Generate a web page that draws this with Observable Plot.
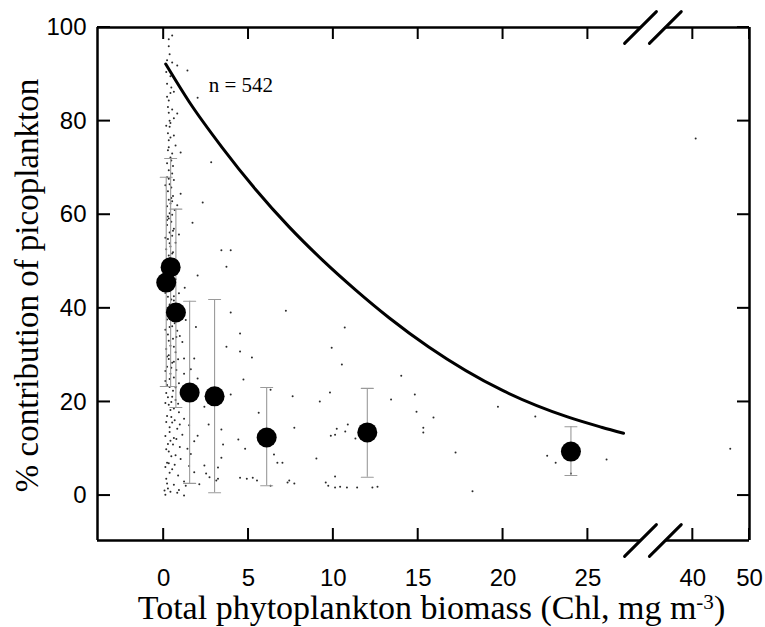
<!DOCTYPE html>
<html><head><meta charset="utf-8">
<script src="https://cdn.jsdelivr.net/npm/d3@7"></script>
<script src="https://cdn.jsdelivr.net/npm/@observablehq/plot@0.6"></script>
<style>html,body{margin:0;padding:0;background:#fff;}</style>
</head><body><div id="chart"></div>
<script>
// ---- data ----
const xTicks = [0, 5, 10, 15, 20, 25, 40, 50];
const yTicks = [0, 20, 40, 60, 80, 100];

// binned means with error bars
const meanX  = [0.15, 0.41, 0.72, 1.53, 3.0, 6.07, 12.0, 24.0];
const meanY  = [45.5, 48.8, 39.1, 22.0, 21.2, 12.4, 13.5, 9.4];
const errHi  = [68.0, 72.0, 61.2, 41.5, 41.9, 23.1, 22.9, 14.7];
const errLo  = [23.3, 23.3, 18.8, 2.6, 0.6, 2.1, 3.9, 4.3];

// fitted curve
const curveX = [0.12, 1.49, 3.46, 5.42, 7.39, 9.36, 11.32, 13.28, 15.6, 20.0, 23.8, 25.8, 27.1];
const curveY = [92.2, 84.2, 74.3, 65.4, 57.4, 50.3, 43.9, 38.0, 31.8, 22.4, 16.8, 14.6, 13.3];

// individual observations (approximate reading of the scatter)
const scatter = [
 [0.3,97.5],[0.5,98.3],[0.3,96],[0.2,93],[0.5,92.5],[0.8,91.9],[1.4,90.8],[0.15,90.5],[0.4,89.6],
 [2.0,85],[0.4,86],[0.6,86.3],[0.3,84.4],[0.5,82.5],[0.35,80.1],[0.6,80.6],[0.8,81.6],[0.2,88],[0.45,87.2],[0.25,83],
 [0.25,77.4],[0.4,76.5],[0.6,76.9],[0.3,75.9],[1.0,73.3],[0.3,74.4],[0.5,73.1],[0.4,72.2],[2.8,71.2],[0.2,71],[0.55,70.4],[0.35,78.8],[0.7,74.8],[0.15,79],
 [0.3,69.5],[0.5,68.8],[0.2,68],[0.6,67.4],[0.35,66.5],[0.45,65.8],[0.25,65],[1.0,64.5],[0.55,64],[0.3,63.2],[0.4,62.4],[2.3,62.6],[0.2,61.8],[0.65,61],[0.35,60.3],[0.5,60],[0.8,62],
 [0.3,59.2],[0.45,58.5],[1.7,58.3],[0.2,57.8],[0.6,57],[0.35,56.2],[0.5,55.5],[0.25,54.8],[0.7,54],[0.4,53.2],[0.15,52.6],[0.55,52],[3.4,52.4],[3.95,52.4],[0.3,51.3],[0.6,50.5],[0.45,50],[0.9,55.8],[0.2,58.9],
 [0.3,49.5],[0.55,48.3],[0.2,47.5],[3.7,48.9],[2.0,47],[1.24,44.4],[0.7,46.2],[0.4,44],[0.9,43.2],[0.25,42.5],[0.6,41.7],[0.35,40.8],[1.0,40.2],[0.15,45.6],[0.8,47.9],
 [3.95,39.1],[7.2,39.5],[1.9,36],[4.5,34.6],[3.7,31.8],[4.5,30.8],[5.2,29.5],[0.3,39.5],[0.5,38.4],[0.2,37.6],[0.65,36.8],[0.35,36],[0.8,35.2],[0.25,34.4],[0.55,33.5],[1.1,32.8],[0.4,32],[0.15,31.3],[0.7,30.6],[0.3,30],[0.95,34.1],[1.3,37.5],
 [1.8,29.3],[1.2,29.3],[1.2,26],[2.0,25],[4.7,24.8],[3.95,21.6],[7.6,21.2],[0.3,29.2],[0.5,28.4],[0.2,27.5],[0.75,26.8],[0.4,26],[0.6,25.2],[0.1,24.5],[0.9,24],[0.35,23.2],[0.55,22.4],[1.0,21.7],[0.25,21],[0.7,20.4],[1.4,22.8],[0.45,20],[1.6,27],
 [2.4,19],[5.6,17.7],[2.65,15.2],[3.4,14.1],[4.4,12],[4.8,10],[3.5,10.9],[0.3,19.4],[0.6,18.6],[0.9,17.8],[0.2,17],[1.2,16.4],[0.5,15.6],[1.5,15],[0.8,14.3],[0.35,13.6],[1.1,13],[0.6,12.3],[1.8,11.6],[0.25,11],[0.95,10.4],[1.4,10],[2.0,12.8],[0.45,16.8],
 [6.5,8.8],[3.4,8.1],[2.4,6.4],[3.2,6],[2.5,4.7],[4.5,3.8],[4.9,3.6],[5.25,3.8],[5.5,3.2],[7.4,3.2],[7.7,2.6],[1.3,2.1],[1.2,0],[3.2,3.6],[3.1,3.2],[0.3,9.4],[0.7,8.6],[1.0,7.8],[0.2,7],[1.5,6.3],[0.5,5.6],[1.8,5],[0.85,4.3],[0.15,3.6],[1.2,3],[0.6,2.3],[0.25,1.5],[0.4,0.8],[0.1,0.2],[0.9,1.2],[2.1,2.4],[2.7,3.9],[1.6,8.9],
 [0.1,66.3],[0.45,63.6],[0.25,59.6],[0.55,56.6],[0.1,55.1],[0.35,53.9],[0.5,51.7],[0.15,49.1],[0.4,47.1],[0.6,44.8],[0.1,43.3],[0.45,41.9],[0.2,40.1],[0.5,36.2],[0.1,35.4],[0.3,33.1],[0.6,31.8],[0.2,29.7],[0.45,27.3],[0.1,26.6],
 [0.35,24.9],[0.2,23.6],[0.5,21.1],[0.1,19.8],[0.4,18.3],[0.15,15.7],[0.35,14.6],[0.1,12.7],[0.4,11.7],[0.15,9.9],[0.45,8.4],[0.1,6.1],[0.35,4.9],[0.2,2.6],[0.05,1.1],[0.3,6.9],[0.55,10.9],[0.65,16.1],[0.15,21.9],[0.6,28.6],
 [0.25,45.1],[0.35,50.7],[0.5,62.9],[0.3,67.7],[0.45,71.6],[0.25,73.8],[0.4,79.6],[0.3,81.8],[0.2,85.2],[0.35,94.3],[0.6,42.6],[0.7,38.9],[0.75,33.9],[0.85,29.1],[0.7,23.1],[0.85,19.6],[0.95,15.2],[0.75,12.1],[0.65,6.6],[0.8,0.6],
 [10.67,35.9],[9.9,31.6],[10.5,28],[14.0,25.6],[6.3,22.6],[9.2,20.1],[9.8,22],[13.4,20.5],[14.8,21.6],[14.9,17.9],[15.9,16.7],[19.7,19],[21.9,16.9],[7.7,14.5],[10.2,14.3],[10.7,13.7],[10.85,15.2],[9.85,12.8],[10.1,13],[11.3,12.2],[15.3,14.5],[15.3,13.5],[17.2,9.2],[22.6,8.5],[23.1,7.0],[24.0,4.7],[6.7,7.0],[7.0,7.0],[9.0,7.9],[7.3,2.8],[6.3,2.1],[9.55,2.8],[9.7,2.1],[10.1,1.7],[10.4,1.9],[10.8,1.7],[11.4,1.7],[12.3,1.7],[12.6,1.9],[10.1,4.1],[18.2,0.9],[26.1,7.7],
 [40.5,76.3],[46.6,10]
];

const nText = "n = 542";
const xTitle = "Total phytoplankton biomass (Chl, mg m-3)";
const yTitle = "% contribution of picoplankton";

// ---- layout / scale setup ----
const W = 765, H = 627;
const mL = 97, mR = 16, mT = 27, mB = 87;
const xDomain = [-3.9, 28.1, 38, 50];           // broken axis: 0–28 | 38–50
const xRange  = [mL, 640, 681, W - mR];
const yDomain = [-9.6, 100];
const breakX  = [28.1, 34.1];
const nPos = {x: 2.65, y: 87.6};
const tickLen = 12;

// pixel -> data conversion for tick sizes
const yPerPx = (yDomain[1] - yDomain[0]) / ((H - mB) - mT);
const xPerPxL = (xDomain[1] - xDomain[0]) / (xRange[1] - xRange[0]);
const xPerPxR = (xDomain[3] - xDomain[2]) / (xRange[3] - xRange[2]);
const xPerPxAt = v => (v > xDomain[2] ? xPerPxR : xPerPxL);

const means = meanX.map((x, i) => ({x, y: meanY[i], hi: errHi[i], lo: errLo[i]}));
const curve = curveX.map((x, i) => ({x, y: curveY[i]}));
const pts = scatter.map(([x, y]) => ({x, y}));

const frameV = [xDomain[0], xDomain[3]];
const frameH = [
  {y: yDomain[1], x1: xDomain[0], x2: breakX[0]}, {y: yDomain[1], x1: breakX[1], x2: xDomain[3]},
  {y: yDomain[0], x1: xDomain[0], x2: breakX[0]}, {y: yDomain[0], x1: breakX[1], x2: xDomain[3]}
];
const breaks = [
  {x: breakX[0], y: yDomain[1]}, {x: breakX[1], y: yDomain[1]},
  {x: breakX[0], y: yDomain[0]}, {x: breakX[1], y: yDomain[0]}
];
// inward ticks drawn as thin filled rectangles (2 px wide)
const tickRects = [
  ...xTicks.flatMap(v => {
    const hw = xPerPxAt(v);
    return [
      {x1: v - hw, x2: v + hw, y1: yDomain[0], y2: yDomain[0] + tickLen * yPerPx},
      {x1: v - hw, x2: v + hw, y1: yDomain[1] - tickLen * yPerPx, y2: yDomain[1]}
    ];
  }),
  ...yTicks.flatMap(v => [
    {x1: xDomain[0], x2: xDomain[0] + (tickLen + 1) * xPerPxL, y1: v - yPerPx, y2: v + yPerPx},
    {x1: xDomain[3] - tickLen * xPerPxR, x2: xDomain[3], y1: v - yPerPx, y2: v + yPerPx}
  ])
];
const seg = {draw(c, l) { c.moveTo(0, 0); c.lineTo(0, -l); }};
const serif = "Liberation Serif, Times New Roman, Times, serif";
const sans = "Liberation Sans, Arial, Helvetica, sans-serif";

const chart = Plot.plot({
  width: W, height: H,
  marginLeft: mL, marginRight: mR, marginTop: mT, marginBottom: mB,
  style: {fontFamily: sans, fontSize: "24px", background: "#fff", color: "#000"},
  x: {type: "linear", domain: xDomain, range: xRange},
  y: {type: "linear", domain: yDomain, range: [H - mB, mT]},
  marks: [
    // data
    Plot.dot(pts, {x: "x", y: "y", r: 1.0, fill: "#2a2a2a"}),
    Plot.ruleX(means, {x: "x", y1: "lo", y2: "hi", stroke: "#9a9a9a", strokeWidth: 1.1}),
    Plot.vector(means, {x: "x", y: "hi", length: 12, rotate: 90, anchor: "middle", shape: seg, stroke: "#9a9a9a", strokeWidth: 1.1}),
    Plot.vector(means, {x: "x", y: "lo", length: 12, rotate: 90, anchor: "middle", shape: seg, stroke: "#9a9a9a", strokeWidth: 1.1}),
    Plot.line(curve, {x: "x", y: "y", curve: "monotone-x", stroke: "#000", strokeWidth: 3}),
    Plot.dot(means, {x: "x", y: "y", r: 10, fill: "#000"}),
    Plot.text([nPos], {x: "x", y: "y", text: () => nText, textAnchor: "start", fontFamily: serif, fontSize: 21}),
    // tick labels
    Plot.axisY({anchor: "left", ticks: yTicks, tickSize: 0, tickPadding: 11, label: null}),
    Plot.axisX({anchor: "bottom", ticks: xTicks, tickSize: 0, tickPadding: 28, label: null}),
    // axis titles
    Plot.text([yTitle], {frameAnchor: "left", rotate: -90, dx: -59.5, dy: 1.5, textAnchor: "middle", lineAnchor: "bottom", fontFamily: serif, fontSize: 33}),
    Plot.text([xTitle], {frameAnchor: "bottom", dx: 8, dy: 78, textAnchor: "middle", lineAnchor: "bottom", fontFamily: serif, fontSize: 34}),
    // frame with axis break
    Plot.ruleX(frameV, {stroke: "#000", strokeWidth: 2.5}),
    Plot.ruleY(frameH, {y: "y", x1: "x1", x2: "x2", stroke: "#000", strokeWidth: 2.5}),
    Plot.vector(breaks, {x: "x", y: "y", length: 45, rotate: 45, anchor: "middle", shape: seg, stroke: "#000", strokeWidth: 3}),
    // inward ticks on all four sides (last, on top of everything)
    Plot.rect(tickRects, {x1: "x1", x2: "x2", y1: "y1", y2: "y2", fill: "#000"})
  ]
});
document.getElementById("chart").appendChild(chart);

// serif titles and superscript unit
d3.select(chart).selectAll("text").each(function() {
  const t = d3.select(this);
  if (this.textContent === yTitle || this.textContent === nText) {
    t.attr("font-family", serif).style("font-family", serif);
  }
  if (this.textContent === xTitle) {
    t.attr("font-family", serif).style("font-family", serif);
    t.text(null);
    t.append("tspan").text("Total phytoplankton biomass (Chl, mg m");
    t.append("tspan").attr("dy", "-0.45em").attr("font-size", "0.62em").text("-3");
    t.append("tspan").attr("dy", "0.28em").text(")");
  }
});
// keep the tick rectangles on top
d3.select(chart).selectAll('g[aria-label="rect"]').raise();
</script>
</body></html>
